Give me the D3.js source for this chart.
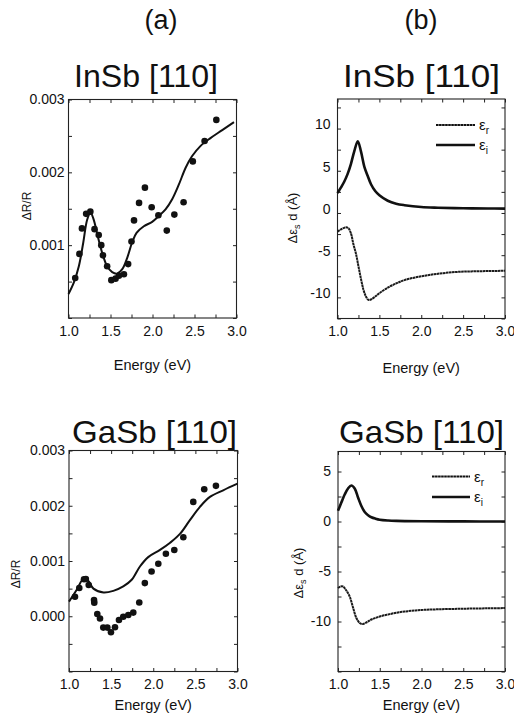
<!DOCTYPE html>
<html><head><meta charset="utf-8">
<script src="https://cdn.jsdelivr.net/npm/d3@7/dist/d3.min.js"></script>
<style>
html,body{margin:0;padding:0;background:#fff;}
svg{display:block;}
text{font-family:'Liberation Sans',Arial,Helvetica,sans-serif;fill:#111;}
</style></head>
<body>
<script>
// ---------- DATA ----------
const xTickLabels = [1.0, 1.5, 2.0, 2.5, 3.0];
const aTickLabelsTop = [0.001, 0.002, 0.003];
const aTickLabelsBottom = [0.000, 0.001, 0.002, 0.003];
const bTickLabelsTop = [-10, -5, 0, 5, 10];
const bTickLabelsBottom = [-10, -5, 0, 5];

// InSb measured dR/R (dots)
const insbDotE = [1.08,1.13,1.16,1.21,1.26,1.31,1.36,1.39,1.41,1.46,1.51,1.56,1.60,1.66,1.71,1.75,1.78,1.84,1.91,1.99,2.07,2.17,2.26,2.37,2.48,2.62,2.76];
const insbDotV = [0.00055,0.00088,0.00123,0.00143,0.00146,0.00122,0.00114,0.00100,0.00086,0.00071,0.00052,0.00054,0.00058,0.00060,0.00074,0.00105,0.00134,0.00158,0.00179,0.00152,0.00141,0.00120,0.00142,0.00159,0.00215,0.00243,0.00272];
// InSb calculated dR/R (line)
const insbFitE = [1.0,1.063,1.123,1.175,1.222,1.262,1.30,1.349,1.40,1.46,1.52,1.58,1.64,1.70,1.758,1.81,1.897,1.996,2.075,2.155,2.234,2.313,2.393,2.47,2.57,2.69,2.83,2.97];
const insbFitV = [0.00033,0.000485,0.00071,0.00103,0.00135,0.00145,0.00135,0.00112,0.00090,0.00071,0.00063,0.00061,0.00067,0.00083,0.00104,0.00117,0.00126,0.00132,0.00140,0.00149,0.00163,0.00183,0.00206,0.00222,0.00236,0.00247,0.00258,0.00269];

// GaSb measured dR/R (dots)
const gasbDotE = [1.071,1.122,1.178,1.20,1.234,1.297,1.30,1.336,1.368,1.407,1.455,1.498,1.546,1.593,1.644,1.704,1.763,1.834,1.90,1.98,2.06,2.15,2.25,2.357,2.475,2.605,2.744];
const gasbDotV = [0.000354,0.000512,0.00067,0.000675,0.000566,0.000295,0.000246,0.00004,-0.00004,-0.000205,-0.000205,-0.00029,-0.0002,-0.000067,-0.00001,0.000023,0.000066,0.00025,0.0006,0.00081,0.00095,0.00113,0.0012,0.00143,0.00207,0.0023,0.00236];
// GaSb calculated dR/R (line)
const gasbFitE = [1.0,1.09,1.178,1.23,1.29,1.41,1.526,1.644,1.744,1.842,1.94,2.08,2.2,2.317,2.435,2.554,2.673,2.83,3.0];
const gasbFitV = [0.000264,0.000475,0.00069,0.00064,0.0005,0.00043,0.00046,0.00054,0.00066,0.0009,0.00107,0.0012,0.00133,0.00149,0.00174,0.00198,0.00216,0.00228,0.0024];

// InSb surface dielectric function (Å)
const insbEpsIE = [1.0,1.04,1.08,1.12,1.16,1.2,1.242,1.28,1.32,1.36,1.4,1.45,1.5,1.6,1.7,1.8,2.0,2.2,2.5,2.8,3.0];
const insbEpsIV = [1.85,2.5,3.2,4.1,5.3,6.8,8.0,6.8,5.0,3.9,2.9,2.1,1.6,0.95,0.6,0.42,0.2,0.12,0.06,0.03,0.02];
const insbEpsRE = [1.0,1.05,1.1,1.13,1.16,1.19,1.22,1.25,1.28,1.31,1.34,1.37,1.4,1.45,1.5,1.6,1.7,1.8,2.0,2.2,2.4,2.6,2.8,3.0];
const insbEpsRV = [-2.7,-2.4,-2.2,-2.3,-2.9,-4.2,-5.3,-6.8,-8.3,-9.6,-10.4,-10.8,-10.75,-10.4,-10.0,-9.35,-8.85,-8.45,-8.0,-7.7,-7.5,-7.42,-7.38,-7.35];

// GaSb surface dielectric function (Å)
const gasbEpsIE = [1.0,1.04,1.08,1.12,1.16,1.2,1.24,1.28,1.32,1.36,1.4,1.45,1.5,1.6,1.7,1.8,2.0,2.5,3.0];
const gasbEpsIV = [1.07,1.9,2.7,3.3,3.6,3.3,2.4,1.55,0.95,0.62,0.42,0.28,0.18,0.1,0.06,0.04,0.02,0.01,0.0];
const gasbEpsRE = [1.0,1.03,1.06,1.1,1.14,1.18,1.22,1.26,1.3,1.35,1.4,1.5,1.6,1.7,1.8,2.0,2.2,2.5,2.8,3.0];
const gasbEpsRV = [-6.66,-6.5,-6.5,-6.9,-7.5,-8.6,-9.65,-10.15,-10.25,-10.05,-9.8,-9.5,-9.3,-9.12,-9.0,-8.85,-8.78,-8.72,-8.68,-8.66];

// ---------- DRAW ----------
const W = 514, H = 714;
const svg = d3.select("body").append("svg").attr("width", W).attr("height", H);
const zip = (xs, ys) => xs.map((x, i) => [x, ys[i]]);
const hyphenFmt = f => v => f(v).replace("\u2212", "-");

function panel(o) {
  const x = d3.scaleLinear().domain([1, 3]).range([o.x0, o.x1]);
  const y = d3.scaleLinear().domain(o.yDom).range([o.y1, o.y0]);
  const g = svg.append("g");
  g.append("rect").attr("x", o.x0).attr("y", o.y0).attr("width", o.x1 - o.x0).attr("height", o.y1 - o.y0)
    .attr("fill", "none").attr("stroke", "#222").attr("stroke-width", 1.1);
  const tl = 3.5;
  const clean = s => { s.select(".domain").remove(); s.selectAll(".tick line").attr("stroke", "#222"); };
  const xMinor = d3.range(1, 3.001, 0.25);
  const yMinor = d3.range(o.yDom[0], o.yDom[1] + 1e-9, o.yMinorStep).map(v => +v.toFixed(6));
  g.append("g").attr("transform", `translate(0,${o.y1})`).call(d3.axisBottom(x).tickValues(xMinor).tickSize(-tl).tickFormat("")).call(clean);
  g.append("g").attr("transform", `translate(0,${o.y0})`).call(d3.axisTop(x).tickValues(xMinor).tickSize(-tl).tickFormat("")).call(clean);
  g.append("g").attr("transform", `translate(${o.x0},0)`).call(d3.axisLeft(y).tickValues(yMinor).tickSize(-tl).tickFormat("")).call(clean);
  g.append("g").attr("transform", `translate(${o.x1},0)`).call(d3.axisRight(y).tickValues(yMinor).tickSize(-tl).tickFormat("")).call(clean);
  const xa = g.append("g").attr("transform", `translate(0,${o.y1})`)
    .call(d3.axisBottom(x).tickValues(xTickLabels).tickSize(0).tickPadding(o.xPad).tickFormat(d3.format(".1f")));
  xa.select(".domain").remove();
  xa.selectAll("text").attr("font-size", 14).attr("font-family", "'Liberation Sans',Arial,sans-serif").attr("fill", "#111");
  const ya = g.append("g").attr("transform", `translate(${o.x0},0)`)
    .call(d3.axisLeft(y).tickValues(o.yLabels).tickSize(0).tickPadding(o.yPad).tickFormat(hyphenFmt(o.yFmt)));
  ya.select(".domain").remove();
  ya.selectAll("text").attr("font-size", 14).attr("font-family", "'Liberation Sans',Arial,sans-serif").attr("fill", "#111");
  g.append("text").attr("x", (o.x0 + o.x1) / 2).attr("y", o.xTitleY).attr("text-anchor", "middle")
    .attr("font-size", 14.5).text("Energy (eV)");
  const yl = g.append("text").attr("transform", `translate(${o.yTitleX},${o.yTitleY}) rotate(-90)`)
    .attr("text-anchor", "middle").attr("font-size", o.yTitleSize);
  o.yTitle(yl);
  g.append("text").attr("x", o.titleX).attr("y", o.titleY).attr("text-anchor", "middle")
    .attr("font-size", 32).attr("textLength", o.titleLen).attr("lengthAdjust", "spacingAndGlyphs").text(o.title);
  return { g, x, y };
}

const line = (x, y) => d3.line().x(d => x(d[0])).y(d => y(d[1])).curve(d3.curveCatmullRom.alpha(0.5));

function reflPanel(o, fitE, fitV, dotE, dotV) {
  const p = panel(Object.assign({
    yMinorStep: 0.0005, yFmt: d3.format(".3f"), yPad: 4, xPad: 8, yTitleSize: 12,
    yTitle: t => t.text("ΔR/R")
  }, o));
  p.g.append("path").datum(zip(fitE, fitV)).attr("d", line(p.x, p.y))
    .attr("fill", "none").attr("stroke", "#111").attr("stroke-width", 2);
  p.g.selectAll("circle.d").data(zip(dotE, dotV)).join("circle").attr("class", "d")
    .attr("cx", d => p.x(d[0])).attr("cy", d => p.y(d[1])).attr("r", 3.3).attr("fill", "#111");
}

const rDash = "2.6,0.45";
function epsPanel(o, iE, iV, rE, rV) {
  const p = panel(Object.assign({
    yMinorStep: 2.5, yFmt: d3.format("d"), yPad: 7, xPad: 8, yTitleSize: 13,
    yTitle: t => {
      t.append("tspan").text("Δε");
      t.append("tspan").attr("font-size", 9).attr("dy", 3).text("s");
      t.append("tspan").attr("dy", -3).text(" d (Å)");
    }
  }, o));
  p.g.append("path").datum(zip(rE, rV)).attr("d", line(p.x, p.y))
    .attr("fill", "none").attr("stroke", "#1a1a1a").attr("stroke-width", 2).attr("stroke-dasharray", rDash);
  p.g.append("path").datum(zip(iE, iV)).attr("d", line(p.x, p.y))
    .attr("fill", "none").attr("stroke", "#111").attr("stroke-width", 2.6);
  const L = o.legend;
  [["r", L.yr, rDash, 2], ["i", L.yi, null, 2.4]].forEach(([s, yy, dash, sw]) => {
    p.g.append("line").attr("x1", L.x1).attr("x2", L.x2).attr("y1", yy).attr("y2", yy)
      .attr("stroke", "#111").attr("stroke-width", sw).attr("stroke-dasharray", dash);
    const t = p.g.append("text").attr("x", L.x2 + 4).attr("y", yy + 5).attr("font-size", 15);
    t.append("tspan").text("ε");
    t.append("tspan").attr("font-size", 10).attr("dy", 4).text(s);
  });
}

svg.append("text").attr("x", 161).attr("y", 29).attr("text-anchor", "middle").attr("font-size", 27).text("(a)");
svg.append("text").attr("x", 421).attr("y", 29).attr("text-anchor", "middle").attr("font-size", 27).text("(b)");

reflPanel({ x0: 68.5, x1: 236.5, y0: 99.5, y1: 318, yDom: [0, 0.003], yLabels: aTickLabelsTop,
  xTitleY: 370, yTitleX: 31, yTitleY: 206, title: "InSb [110]", titleX: 146, titleY: 87, titleLen: 144 },
  insbFitE, insbFitV, insbDotE, insbDotV);

reflPanel({ x0: 69, x1: 237.5, y0: 450.5, y1: 671.5, yDom: [-0.001, 0.003], yLabels: aTickLabelsBottom,
  xTitleY: 710, yTitleX: 20, yTitleY: 574, title: "GaSb [110]", titleX: 154.5, titleY: 443, titleLen: 165 },
  gasbFitE, gasbFitV, gasbDotE, gasbDotV);

epsPanel({ x0: 337.5, x1: 505, y0: 99, y1: 318.5, yDom: [-13, 13], yLabels: bTickLabelsTop,
  xTitleY: 373, yTitleX: 297, yTitleY: 218, title: "InSb [110]", titleX: 421.5, titleY: 87, titleLen: 157,
  legend: { x1: 436, x2: 475, yr: 125, yi: 145 } },
  insbEpsIE, insbEpsIV, insbEpsRE, insbEpsRV);

epsPanel({ x0: 338, x1: 505, y0: 451.5, y1: 671.5, yDom: [-15, 7], yLabels: bTickLabelsBottom,
  xTitleY: 710, yTitleX: 303, yTitleY: 573, title: "GaSb [110]", titleX: 421.5, titleY: 443, titleLen: 165,
  legend: { x1: 432, x2: 470, yr: 476.5, yi: 497 } },
  gasbEpsIE, gasbEpsIV, gasbEpsRE, gasbEpsRV);
</script>
</body></html>
